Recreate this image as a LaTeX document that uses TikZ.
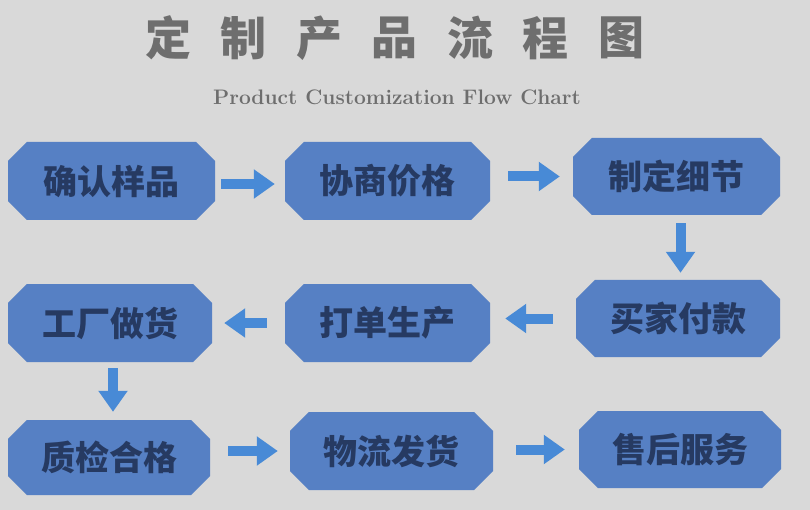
\documentclass[tikz,border=0pt]{standalone}
\usepackage{fontspec}
\newfontfamily\cjk{Noto Sans CJK SC}
\usetikzlibrary{shapes.misc,arrows.meta}
\definecolor{hintergrund}{RGB}{217,217,217}
\definecolor{boxblau}{RGB}{86,128,196}
\definecolor{textblau}{RGB}{38,58,98}
\definecolor{pfeilblau}{RGB}{72,138,214}
\definecolor{titelgrau}{RGB}{110,110,110}
\begin{document}
\begin{tikzpicture}[x=1pt, y=-1pt,
        kasten/.style={chamfered rectangle, chamfered rectangle xsep=16pt, fill=boxblau,
            minimum width=206pt, minimum height=78pt, inner sep=0pt, text=textblau,
            font=\cjk\bfseries\fontsize{34}{40}\selectfont},
        pfeil/.style={draw=pfeilblau, line width=10pt, -{Triangle[length=21pt, width=28pt]}}]
    \fill[hintergrund] (0, 0) rectangle (810, 510);
    \useasboundingbox (0, 0) rectangle (810, 510);
    \foreach \z [count=\i from 0] in {定,制,产,品,流,程,图}
        \node[text=titelgrau, font=\cjk\bfseries\fontsize{46}{50}\selectfont] (titel\i) at (168+75.5*\i, 38) {\z};
    \node[text=titelgrau, font=\bfseries\fontsize{21}{25}\selectfont] (untertitel) at (397, 97) {Product Customization Flow Chart};
    \node[kasten, minimum width=207pt] (muster)    at (111.5, 181) {确认样品};
    \node[kasten, minimum width=205pt] (preis)     at (387.5, 181) {协商价格};
    \node[kasten, minimum width=207pt, minimum height=77pt] (details) at (676.5, 176.5) {制定细节};
    \node[kasten, minimum width=204pt] (fabrik)    at (110, 323) {工厂做货};
    \node[kasten, minimum width=205pt] (auftrag)   at (387.5, 323) {打单生产};
    \node[kasten, minimum width=204pt, minimum height=77pt] (zahlung) at (678, 318.5) {买家付款};
    \node[kasten, minimum width=202pt, minimum height=75pt] (pruefung) at (109, 457.5) {质检合格};
    \node[kasten, minimum width=203pt] (versand)   at (391.5, 451) {物流发货};
    \node[kasten, minimum width=202pt, minimum height=77pt] (service) at (680, 449.5) {售后服务};
    \draw[pfeil] ([shift={(6pt, -3pt)}]muster.east) -- ([shift={(-10pt, -3pt)}]preis.west);
    \draw[pfeil] ([xshift=18pt]preis.east |- details.west) -- ([xshift=-13pt]details.west);
    \draw[pfeil] ([shift={(4pt, -8pt)}]details.south) -- ([shift={(4pt, 7pt)}]details.south |- zahlung.north);
    \draw[pfeil] ([xshift=-23pt]zahlung.west) -- ([xshift=15pt]zahlung.west -| auftrag.east);
    \draw[pfeil] ([xshift=-18pt]auftrag.west) -- ([xshift=12pt]fabrik.east);
    \draw[pfeil] ([shift={(3pt, -6pt)}]fabrik.south) -- ([shift={(3pt, 8pt)}]fabrik.south |- pruefung.north);
    \draw[pfeil] ([xshift=18pt]pruefung.east |- versand.east) -- ([xshift=-12pt]versand.west);
    \draw[pfeil] ([xshift=23pt]versand.east |- service.west) -- ([xshift=-14pt]service.west);
\end{tikzpicture}
\end{document}
